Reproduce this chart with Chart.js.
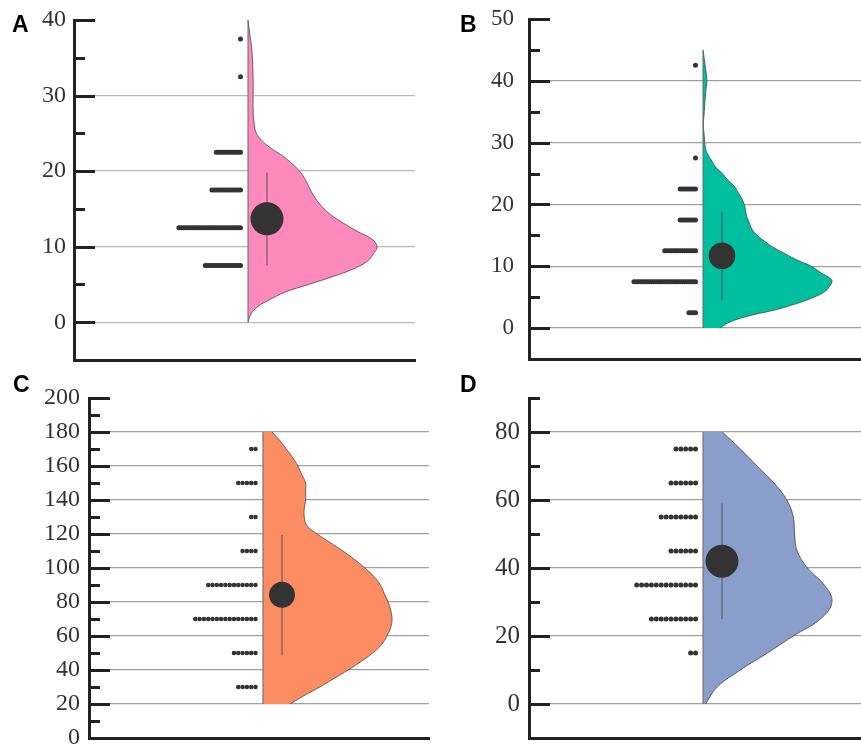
<!DOCTYPE html>
<html>
<head>
<meta charset="utf-8">
<script src="https://cdn.jsdelivr.net/npm/chart.js@4/dist/chart.umd.min.js"></script>
<style>
  body { margin: 0; background: #fff; }
  #wrap { position: relative; width: 861px; height: 745px; overflow: hidden; }
  canvas { position: absolute; }
  .tag { position: absolute; font: bold 23px 'Liberation Sans', Arial, sans-serif; line-height: 1; color: #000; }
</style>
</head>
<body>
<div id="wrap">
  <canvas id="cA" width="430" height="370" style="left:0;top:0"></canvas>
  <canvas id="cB" width="431" height="370" style="left:430px;top:0"></canvas>
  <canvas id="cC" width="430" height="375" style="left:0;top:370px"></canvas>
  <canvas id="cD" width="431" height="375" style="left:430px;top:370px"></canvas>
  <div class="tag" style="left:12px;top:13px">A</div>
  <div class="tag" style="left:460px;top:13px">B</div>
  <div class="tag" style="left:13px;top:373px">C</div>
  <div class="tag" style="left:460px;top:373px">D</div>
</div>
<script>
// --- panel A ---
const violinA_y = [0, 1, 2, 3, 4, 5, 6, 7, 8, 9, 10, 11, 12, 13, 14, 15, 16, 17, 18, 19, 20, 21, 22, 23, 24, 25, 26, 28, 32, 36, 38, 40]
const violinA_d = [0, .02, .07, .17, .29, .47, .65, .81, .92, .97, 1, .96, .85, .75, .66, .59, .54, .50, .47, .44, .40, .34, .27, .18, .11, .065, .05, .04, .04, .03, .015, 0]
const dotsA_y = [37.5, 32.5, 22.5, 17.5, 12.5, 7.5]
const dotsA_n = [1, 1, 12, 14, 29, 17]
const meanA = 13.7
const errA = [7.5, 19.8]
const labelsA = [0, 10, 20, 30, 40]

// --- panel B ---
const violinB_y = [0, 1, 2, 3, 4, 5, 6, 7, 7.5, 8, 9, 10, 11, 12, 13, 14, 15, 16, 17, 18, 19, 20, 21, 22, 23, 24, 25, 26, 27, 28, 29, 31, 33, 35, 38, 40, 42, 45]
const violinB_d = [.13, .21, .36, .57, .73, .86, .95, .99, 1, .99, .91, .84, .73, .64, .55, .48, .42, .38, .36, .34, .33, .32, .30, .27, .24, .19, .15, .10, .07, .04, .02, .01, .003, .01, .02, .03, .02, 0]
const dotsB_y = [42.5, 27.5, 22.5, 17.5, 12.5, 7.5, 2.5]
const dotsB_n = [1, 1, 8, 8, 15, 29, 4]
const meanB = 11.7
const errB = [4.5, 18.8]
const labelsB = [0, 10, 20, 30, 40, 50]

// --- panel C ---
const violinC_y = [20, 25, 30, 35, 40, 45, 50, 55, 60, 65, 70, 75, 80, 85, 90, 95, 100, 105, 110, 115, 120, 125, 130, 135, 140, 145, 150, 155, 160, 165, 170, 175, 180]
const violinC_d = [.21, .32, .44, .55, .66, .76, .85, .92, .96, .99, 1, .99, .97, .94, .91, .86, .79, .71, .62, .52, .42, .34, .32, .32, .33, .33, .33, .30, .27, .23, .18, .13, .07]
const dotsC_y = [170, 150, 130, 110, 90, 70, 50, 30]
const dotsC_n = [2, 5, 2, 4, 12, 15, 6, 5]
const meanC = 84.2
const errC = [48.6, 119.5]
const labelsC = [0, 20, 40, 60, 80, 100, 120, 140, 160, 180, 200]

// --- panel D ---
const violinD_y = [0, 5, 10, 15, 20, 25, 30, 35, 40, 45, 50, 55, 60, 65, 70, 75, 80]
const violinD_d = [.02, .11, .29, .50, .70, .91, 1, .94, .81, .73, .71, .70, .65, .55, .42, .29, .15]
const dotsD_y = [75, 65, 55, 45, 35, 25, 15]
const dotsD_n = [5, 6, 8, 6, 13, 10, 2]
const meanD = 42.0
const errD = [24.9, 59.0]
const labelsD = [0, 20, 40, 60, 80]

const ink = '#333333'
const axisInk = '#222222'

// short dark ticks drawn inward from the y axis, like the original figure
const inwardTicks = {
  id: 'inwardTicks',
  afterDatasetsDraw(chart, args, opts) {
    const y = chart.scales.y
    const ctx = chart.ctx
    const left = chart.chartArea.left
    ctx.save()
    ctx.strokeStyle = axisInk
    ctx.lineWidth = 3
    y.ticks.forEach(t => {
      const py = Math.round(y.getPixelForValue(t.value)) + 0.5
      const len = t.value % opts.major === 0 ? 21 : 11
      ctx.beginPath()
      ctx.moveTo(left, py)
      ctx.lineTo(left + len, py)
      ctx.stroke()
    })
    ctx.restore()
  }
}

function panel(id, p) {
  const canvas = document.getElementById(id)
  const xMax = canvas.width - p.padRight - p.axisX
  const base = 174       // flat side of the half violin
  const halfWidth = 129  // widest point
  const meanX = base + 19
  const dotStart = base - 7.5
  const vMin = p.vy[0]
  const vMax = p.vy[p.vy.length - 1]

  const curve = p.vy.map((v, i) => ({x: base + p.vd[i] * halfWidth, y: v}))
  const dots = []
  p.dotY.forEach((v, i) => {
    for (let k = 0; k < p.dotN[i]; k++) dots.push({x: dotStart - k * p.gap, y: v})
  })

  return new Chart(canvas, {
    type: 'scatter',
    data: {
      datasets: [
        {
          type: 'line', data: curve, indexAxis: 'y',
          backgroundColor: p.color, borderColor: 'rgba(60,60,60,0.75)', borderWidth: 1,
          fill: {value: base}, tension: 0.4, pointRadius: 0, order: 5
        },
        {
          type: 'line', data: [{x: base, y: vMin}, {x: base, y: vMax}],
          borderColor: '#666', borderWidth: 1, pointRadius: 0, fill: false, order: 4
        },
        {
          type: 'line', data: [{x: meanX, y: p.err[0]}, {x: meanX, y: p.err[1]}],
          borderColor: '#555', borderWidth: 1, pointRadius: 0, fill: false, order: 3
        },
        {data: [{x: meanX, y: p.mean}], pointRadius: p.meanR, backgroundColor: ink, borderWidth: 0, order: 2},
        {data: dots, pointRadius: p.dotR, backgroundColor: ink, borderWidth: 0, order: 1}
      ]
    },
    options: {
      animation: false,
      responsive: false,
      events: [],
      layout: {autoPadding: false, padding: {left: 0, top: p.padTop, right: p.padRight, bottom: 0}},
      plugins: {legend: {display: false}, tooltip: {enabled: false}, inwardTicks: {major: p.major}},
      scales: {
        x: {
          type: 'linear', min: 0, max: xMax,
          ticks: {display: false},
          grid: {drawOnChartArea: false, drawTicks: false},
          border: {color: axisInk, width: 3},
          afterFit(s) { s.height = p.bottomGap; s.paddingLeft = 0; s.paddingRight = 0 }
        },
        y: {
          type: 'linear', min: p.ymin, max: p.ymax,
          ticks: {
            stepSize: p.minor, autoSkip: false, padding: p.tickPad, color: '#333',
            font: {family: "'Liberation Serif', 'Times New Roman', serif", size: p.font},
            callback: v => p.labels.includes(v) ? String(v) : ''
          },
          grid: {
            drawTicks: false, lineWidth: 1.3,
            color: c => (c.tick && p.labels.includes(c.tick.value) && c.tick.value < p.ymax) ? p.gridColor : 'rgba(0,0,0,0)'
          },
          border: {color: axisInk, width: 3},
          afterFit(s) { s.width = p.axisX; s.paddingTop = 0; s.paddingBottom = 0 }
        }
      }
    },
    plugins: [inwardTicks]
  })
}

panel('cA', {
  vy: violinA_y, vd: violinA_d, dotY: dotsA_y, dotN: dotsA_n, mean: meanA, err: errA, labels: labelsA,
  color: '#ff88bc', gridColor: '#b8b8b8', ymin: -5, ymax: 40, minor: 5, major: 10,
  axisX: 74, padTop: 20, padRight: 15, bottomGap: 10, font: 24, tickPad: 8,
  meanR: 16.5, dotR: 2.5, gap: 2.2
})
panel('cB', {
  vy: violinB_y, vd: violinB_d, dotY: dotsB_y, dotN: dotsB_n, mean: meanB, err: errB, labels: labelsB,
  color: '#00bf9f', gridColor: '#a0a0a0', ymin: -5, ymax: 50, minor: 5, major: 10,
  axisX: 99, padTop: 19, padRight: 0, bottomGap: 11, font: 23, tickPad: 15,
  meanR: 13.3, dotR: 2.5, gap: 2.2
})
panel('cC', {
  vy: violinC_y, vd: violinC_d, dotY: dotsC_y, dotN: dotsC_n, mean: meanC, err: errC, labels: labelsC,
  color: '#fc8d62', gridColor: '#a0a0a0', ymin: 0, ymax: 200, minor: 10, major: 20,
  axisX: 89, padTop: 28, padRight: 1, bottomGap: 7, font: 24, tickPad: 9,
  meanR: 13, dotR: 2.3, gap: 4.3
})
panel('cD', {
  vy: violinD_y, vd: violinD_d, dotY: dotsD_y, dotN: dotsD_n, mean: meanD, err: errD, labels: labelsD,
  color: '#8a9ecb', gridColor: '#a0a0a0', ymin: -10, ymax: 90, minor: 10, major: 20,
  axisX: 99, padTop: 28, padRight: 0, bottomGap: 7, font: 25, tickPad: 9,
  meanR: 16.5, dotR: 2.5, gap: 4.9
})
</script>
</body>
</html>
